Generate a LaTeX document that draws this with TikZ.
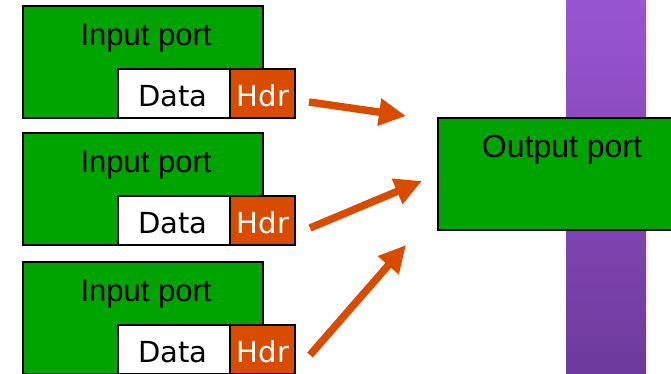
\documentclass[tikz,border=0pt]{standalone}
\usepackage{fontspec}
\setmainfont{Liberation Sans}
\newfontfamily\comicfont{DejaVu Sans}
\usetikzlibrary{arrows.meta}
\definecolor{pgreen}{RGB}{0,164,0}
\definecolor{porange}{RGB}{217,76,0}
\definecolor{ptop}{RGB}{154,85,210}
\definecolor{pbot}{RGB}{110,58,155}
\begin{document}
\begin{tikzpicture}[x=1pt,y=-1pt,
  portbox/.style={draw=black,line width=2pt,fill=pgreen,rectangle,inner sep=0pt,anchor=north west},
  databox/.style={draw=black,line width=2pt,fill=white,rectangle,inner sep=0pt,anchor=north west,minimum width=112pt,minimum height=49pt},
  hdrbox/.style={draw=black,line width=2pt,fill=porange,rectangle,inner sep=0pt,anchor=north west,minimum width=65pt,minimum height=49pt},
  porttext/.style={anchor=base,inner sep=0pt,font=\fontsize{31}{31}\selectfont},
  datatext/.style={anchor=base,inner sep=0pt,font=\comicfont\fontsize{29}{29}\selectfont},
  hdrtext/.style={datatext,text=white},
  flow/.style={draw=porange,line width=7.5pt,-{Triangle[length=27pt,width=26pt]}}
]
\useasboundingbox (0,0) rectangle (671,373);
\shade[top color=ptop,bottom color=pbot] (566,0) rectangle (646,373);
% input ports
\foreach \i/\y in {1/5,2/132,3/261}{
  \node[portbox,minimum width=240pt,minimum height=112pt] (in\i) at (22,\y) {};
  \node[porttext] (in\i t) at (146,\y+40) {Input port};
  \node[databox] (data\i) at (117,\y+63) {};
  \node[datatext] (data\i t) at (173,\y+101) {Data};
  \node[hdrbox] (hdr\i) at (229,\y+63) {};
  \node[hdrtext] (hdr\i t) at (263,\y+101) {Hdr};
}
% output port
\node[portbox,minimum width=245pt,minimum height=112pt] (out) at (437,117) {};
\node[porttext,font=\fontsize{32}{32}\selectfont] (outt) at (562,157) {Output port};
% arrows
\coordinate (s1) at (309,102);
\coordinate (e1) at (406,116);
\coordinate (s2) at (310,228);
\coordinate (e2) at (422,181);
\coordinate (s3) at (310,355);
\coordinate (e3) at (406,245);
\draw[flow] (s1) -- (e1);
\draw[flow] (s2) -- (e2);
\draw[flow] (s3) -- (e3);
\end{tikzpicture}
\end{document}
